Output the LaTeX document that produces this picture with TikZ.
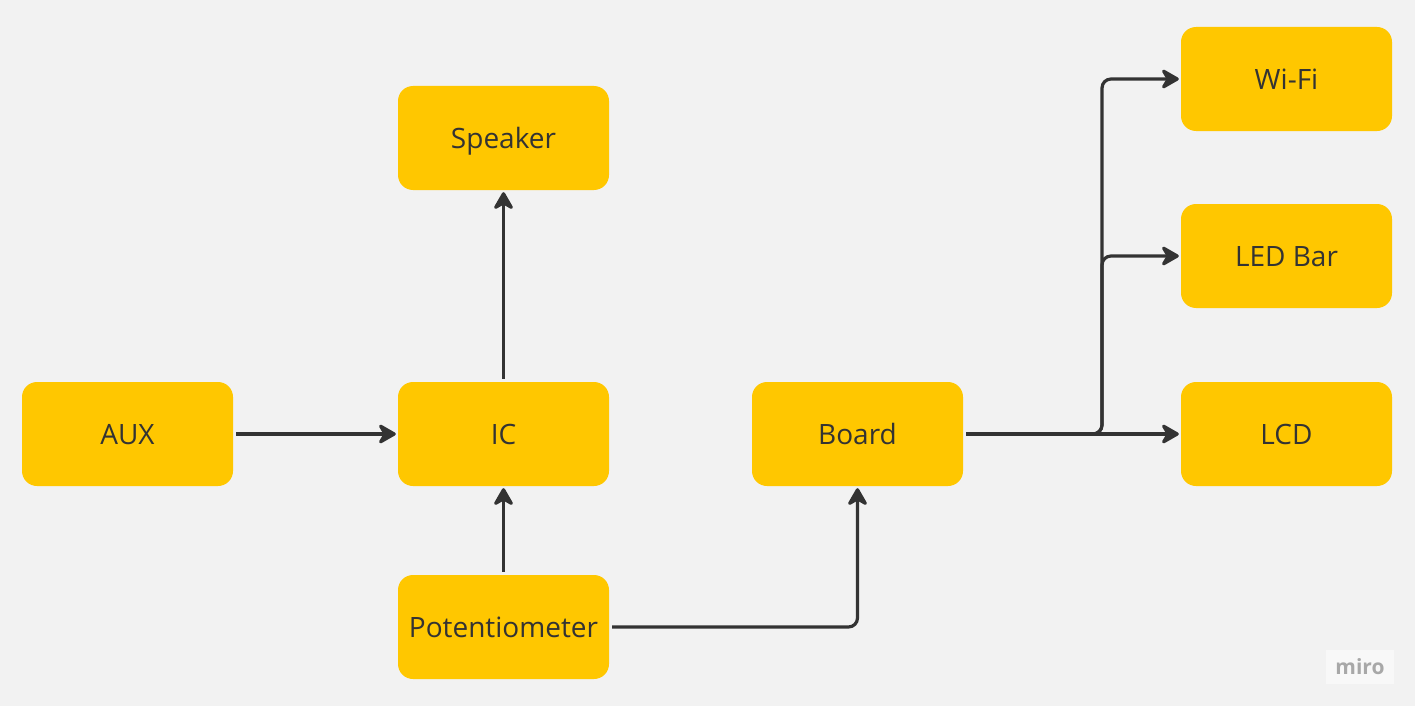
\documentclass[tikz,border=0pt]{standalone}
\usepackage{fontspec}
\setmainfont{Open Sans}
\usetikzlibrary{arrows.meta}
\definecolor{bg}{HTML}{F2F2F2}
\definecolor{boxy}{HTML}{FFC700}
\definecolor{ink}{HTML}{333333}
\definecolor{logo}{HTML}{A8A8A8}
\tikzset{
  blk/.style={rectangle, rounded corners=15pt, fill=boxy, minimum width=211pt, minimum height=104pt, inner sep=0pt, text=ink, font=\fontsize{28}{32}\selectfont, text height=21pt, text depth=0pt},
  conn/.style={draw=ink, line width=3.2pt, rounded corners=9pt, shorten <=3pt, shorten >=2pt,
    -{Stealth[length=21pt,width=24pt,inset=7pt,round]}},
}
\begin{document}
\begin{tikzpicture}[x=1pt,y=-1pt]
\fill[bg] (0,0) rectangle (1415,706);
\useasboundingbox (0,0) rectangle (1415,706);
\node[blk] (spk) at (503.5,138) {Speaker};
\node[blk] (aux) at (127.5,434) {AUX};
\node[blk] (ic) at (503.5,434) {IC};
\node[blk] (pot) at (503.5,627) {Potentiometer};
\node[blk] (brd) at (857.5,434) {Board};
\node[blk] (wifi) at (1286.5,79) {Wi-Fi};
\node[blk] (led) at (1286.5,256) {LED Bar};
\node[blk] (lcd) at (1286.5,434) {LCD};
\node[fill=white!50!bg, minimum width=68pt, minimum height=34pt, text=logo, font=\fontsize{21}{24}\selectfont\bfseries] (miro) at (1360,667) {miro};
\coordinate (br) at (1102,434);
\draw[conn] (aux.east) -- (ic.west);
\draw[conn] (ic.north) -- (spk.south);
\draw[conn] (pot.north) -- (ic.south);
\draw[conn] (pot.east) -| (brd.south);
\draw[conn] (brd.east) -- (lcd.west);
\draw[conn] (brd.east) -- (br) |- (led.west);
\draw[conn] (brd.east) -- (br) |- (wifi.west);
\end{tikzpicture}
\end{document}
